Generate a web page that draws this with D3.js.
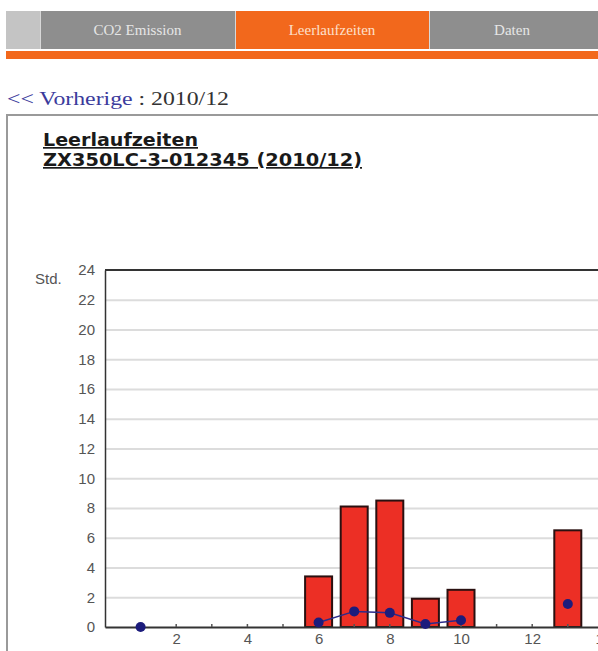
<!DOCTYPE html>
<html><head><meta charset="utf-8">
<script src="https://cdn.jsdelivr.net/npm/d3@7"></script>
<style>
html,body{margin:0;padding:0;background:#fff;overflow:hidden;}
svg{display:block;}
</style></head>
<body>
<script>
const tabs = ["CO2 Emission", "Leerlaufzeiten", "Daten"];
const activeTab = "Leerlaufzeiten";
const navPrev = "<< Vorherige";
const navPeriod = " : 2010/12";
const titleLines = ["Leerlaufzeiten", "ZX350LC-3-012345 (2010/12)"];
const yUnit = "Std.";
const yTicks = [0, 2, 4, 6, 8, 10, 12, 14, 16, 18, 20, 22, 24];
const xTicks = [2, 4, 6, 8, 10, 12, 14];
const days = [1, 2, 3, 4, 5, 6, 7, 8, 9, 10, 11, 12, 13];
const barValues = [0, null, null, null, null, 3.4, 8.1, 8.5, 1.9, 2.5, null, null, 6.5];
const lineValues = [0, null, null, null, null, 0.3, 1.05, 0.95, 0.2, 0.45, null, null, 1.55];

const W = 598, H = 651;
const svg = d3.select("body").append("svg").attr("width", W).attr("height", H);

// Tabs
const tabX = [40, 235, 429, 595];
svg.append("rect").attr("x", 6).attr("y", 11).attr("width", 34).attr("height", 38).attr("fill", "#c4c4c4");
tabs.forEach((t, i) => {
  const active = t === activeTab;
  svg.append("rect").attr("x", tabX[i]).attr("y", 11).attr("width", (i === 2 ? W : tabX[i+1]) - tabX[i]).attr("height", 38)
    .attr("fill", active ? "#f2681c" : "#8e8e8e");
  svg.append("line").attr("x1", tabX[i] + 0.5).attr("x2", tabX[i] + 0.5).attr("y1", 11).attr("y2", 49)
    .attr("stroke", "#d8d8d8").attr("stroke-width", 1);
  svg.append("text").attr("x", (tabX[i] + tabX[i+1]) / 2).attr("y", 35)
    .attr("text-anchor", "middle").attr("font-family", "Liberation Serif, Times New Roman, serif")
    .attr("font-size", 15).attr("fill", active ? "#fde0cc" : "#e6e6e6").text(t);
});
svg.append("rect").attr("x", 6).attr("y", 51).attr("width", W).attr("height", 8).attr("fill", "#f2681c");

// Nav
const nav = svg.append("text").attr("x", 7).attr("y", 105)
  .attr("font-family", "Liberation Serif, Times New Roman, serif").attr("font-size", 19)
  .attr("textLength", 222).attr("lengthAdjust", "spacingAndGlyphs");
nav.append("tspan").attr("fill", "#3b3b9c").text(navPrev);
nav.append("tspan").attr("fill", "#333").text(navPeriod);

// Chart box
svg.append("rect").attr("x", 7).attr("y", 115).attr("width", W).attr("height", H)
  .attr("fill", "#fff").attr("stroke", "#9a9a9a").attr("stroke-width", 2);

// Title
const titleW = [155, 319];
titleLines.forEach((t, i) => {
  svg.append("text").attr("x", 43).attr("y", 146 + i * 20)
    .attr("font-family", "DejaVu Sans, Verdana, sans-serif").attr("font-size", 17)
    .attr("font-weight", "bold").attr("fill", "#1a1a1a")
    .attr("textLength", titleW[i]).attr("lengthAdjust", "spacingAndGlyphs")
    .attr("text-decoration", "underline").text(t);
});

// Scales
const plot = {left: 105, top: 270, bottom: 627};
const pxPerDay = 35.6;
const x = d3.scaleLinear().domain([0, 32]).range([plot.left, plot.left + 32 * pxPerDay]);
const y = d3.scaleLinear().domain([0, 24]).range([plot.bottom, plot.top]);
const right = x(32);

// Gridlines
svg.append("g").selectAll("line").data(yTicks.filter(d => d > 0 && d < 24)).join("line")
  .attr("x1", plot.left).attr("x2", right).attr("y1", d => y(d) + 0.5).attr("y2", d => y(d) + 0.5)
  .attr("stroke", "#dcdcdc").attr("stroke-width", 2);

// Y axis
const yAxis = svg.append("g").attr("transform", `translate(${plot.left},0)`)
  .call(d3.axisLeft(y).tickValues(yTicks).tickSize(0).tickPadding(10));
yAxis.select(".domain").attr("stroke", "#333").attr("stroke-width", 1.5);
yAxis.selectAll("text").attr("font-family", "Liberation Sans, Arial, sans-serif")
  .attr("font-size", 15).attr("fill", "#555");

svg.append("text").attr("x", 35).attr("y", 284).attr("font-family", "Liberation Sans, Arial, sans-serif")
  .attr("font-size", 15).attr("fill", "#555").text(yUnit);

// Top border
svg.append("line").attr("x1", plot.left).attr("x2", right).attr("y1", y(24)).attr("y2", y(24))
  .attr("stroke", "#333").attr("stroke-width", 2);

// Bars
const bw = 27;
const barData = days.map((d, i) => ({d, v: barValues[i]})).filter(e => e.v !== null);
svg.append("g").selectAll("rect").data(barData).join("rect")
  .attr("x", e => x(e.d) - bw / 2).attr("width", bw)
  .attr("y", e => y(e.v)).attr("height", e => Math.max(0, y(0) - y(e.v)))
  .attr("fill", "#ec2f25").attr("stroke", "#2a1010").attr("stroke-width", e => e.v === 0 ? 3 : 2);

// X axis
const xAxis = svg.append("g").attr("transform", `translate(0,${plot.bottom})`)
  .call(d3.axisBottom(x).tickValues(xTicks).tickSize(0).tickPadding(6).tickFormat(d3.format("d")));
xAxis.select(".domain").attr("stroke", "#333").attr("stroke-width", 2);
xAxis.selectAll("text").attr("font-family", "Liberation Sans, Arial, sans-serif")
  .attr("font-size", 15).attr("fill", "#555");
// small integer ticks
svg.append("g").selectAll("line").data(d3.range(1, 32)).join("line")
  .attr("x1", d => x(d)).attr("x2", d => x(d)).attr("y1", plot.bottom - 3).attr("y2", plot.bottom)
  .attr("stroke", "#555").attr("stroke-width", 1.5);

// Line
const lineData = days.map((d, i) => ({d, v: lineValues[i]}));
svg.append("path").datum(lineData)
  .attr("d", d3.line().defined(e => e.v !== null).x(e => x(e.d)).y(e => y(e.v)))
  .attr("fill", "none").attr("stroke", "#2b2b8a").attr("stroke-width", 1.5);
svg.append("g").selectAll("circle").data(lineData.filter(e => e.v !== null)).join("circle")
  .attr("cx", e => x(e.d)).attr("cy", e => y(e.v)).attr("r", 5)
  .attr("fill", "#1c1c7c");
</script>
</body></html>
